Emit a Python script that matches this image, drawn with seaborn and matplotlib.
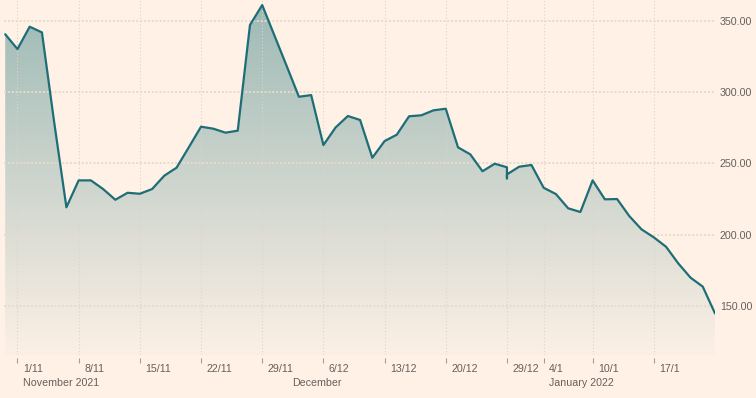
import numpy as np
import pandas as pd
import matplotlib
matplotlib.use("Agg")
import matplotlib.pyplot as plt
import matplotlib.transforms as mtransforms
from matplotlib.colors import LinearSegmentedColormap
import seaborn as sns

# ---------------- data ----------------
dates = [
    "2021-10-29",
    "2021-11-01", "2021-11-02", "2021-11-03", "2021-11-04", "2021-11-05",
    "2021-11-08", "2021-11-09", "2021-11-10", "2021-11-11", "2021-11-12",
    "2021-11-15", "2021-11-16", "2021-11-17", "2021-11-18", "2021-11-19",
    "2021-11-22", "2021-11-23", "2021-11-24", "2021-11-25", "2021-11-26",
    "2021-11-29", "2021-11-30", "2021-12-01", "2021-12-02", "2021-12-03",
    "2021-12-06", "2021-12-07", "2021-12-08", "2021-12-09", "2021-12-10",
    "2021-12-13", "2021-12-14", "2021-12-15", "2021-12-16", "2021-12-17",
    "2021-12-20", "2021-12-21", "2021-12-22", "2021-12-23", "2021-12-24",
    "2021-12-29", "2021-12-29", "2021-12-29", "2021-12-30", "2021-12-31",
    "2022-01-04", "2022-01-05", "2022-01-06", "2022-01-07",
    "2022-01-10", "2022-01-11", "2022-01-12", "2022-01-13", "2022-01-14",
    "2022-01-17", "2022-01-18", "2022-01-19", "2022-01-20", "2022-01-21",
    "2022-01-24",
]
prices = [
    340.7,
    330.3, 346.0, 342.0, 279.0, 219.2,
    238.1, 238.1, 232.0, 224.5, 229.4,
    228.7, 232.0, 241.4, 247.0, 261.3,
    275.8, 274.4, 271.6, 273.0, 347.2,
    361.2, 339.8, 318.4, 296.8, 298.0,
    262.9, 275.3, 283.3, 280.5, 254.0,
    265.7, 270.2, 283.1, 283.8, 287.3,
    288.4, 261.3, 256.4, 244.5, 249.8,
    247.3, 239.5, 242.3, 247.7, 248.9,
    232.9, 228.5, 218.5, 215.9,
    238.1, 224.8, 225.0, 213.0, 203.7,
    198.1, 191.5, 179.8, 169.8, 163.5,
    144.7,
]
holidays = ["2021-12-27", "2021-12-28", "2022-01-03"]
tick_dates = ["2021-11-01", "2021-11-08", "2021-11-15", "2021-11-22",
              "2021-11-29", "2021-12-06", "2021-12-13", "2021-12-20",
              "2021-12-29", "2022-01-04", "2022-01-10", "2022-01-17"]
tick_labels = ["1/11", "8/11", "15/11", "22/11", "29/11", "6/12", "13/12",
               "20/12", "29/12", "4/1", "10/1", "17/1"]
month_dates = ["2021-11-01", "2021-12-01", "2022-01-04"]
month_labels = ["November 2021", "December", "January 2022"]
y_ticks = [150, 200, 250, 300, 350]

# ---------------- style ----------------
BG = "#fff1e5"
TEXT = "#66605c"
LINE = "#1d6e77"
sns.set_theme(style="white", rc={"figure.facecolor": BG, "axes.facecolor": BG})
plt.rcParams["font.family"] = ["Liberation Sans", "DejaVu Sans"]

START = "2021-10-29"


def trading_pos(d):
    return np.busday_count(START, np.array(d, dtype="datetime64[D]"),
                           holidays=holidays)


df = pd.DataFrame({"date": dates, "price": prices})
df["pos"] = trading_pos(dates)

fig = plt.figure(figsize=(7.56, 3.98), dpi=100)
ax = fig.add_axes([4 / 756, 43 / 398, 711 / 756, 355 / 398])

xlim = (-0.1, float(df["pos"].max()))
ylim = (115.5, 364.75)

sns.lineplot(data=df, x="pos", y="price", estimator=None, sort=False,
             color=LINE, linewidth=1.6, ax=ax, zorder=4)

# gradient fill under the line
poly = ax.fill_between(df["pos"], df["price"], ylim[0],
                       facecolor="none", edgecolor="none")
cmap = LinearSegmentedColormap.from_list("ftgrad", ["#fcf0e5", "#9db9b5"])
grad = np.linspace(0, 1, 256).reshape(-1, 1)
im = ax.imshow(grad, cmap=cmap, aspect="auto", origin="lower",
               extent=[xlim[0], xlim[1], ylim[0], ylim[1]], zorder=1,
               interpolation="bicubic")
im.set_clip_path(poly.get_paths()[0], transform=ax.transData)

ax.set_xlim(*xlim)
ax.set_ylim(*ylim)

# grid
ax.set_axisbelow(False)
ax.yaxis.grid(True, color="#e8dacd", linestyle=(0, (1, 1)), linewidth=1.4)
ax.xaxis.grid(True, color="#ddd4cb", linestyle=(0, (1, 2)), linewidth=0.8)

for s in ax.spines.values():
    s.set_visible(False)
ax.spines["bottom"].set_position(("outward", 2.2))

# y axis on the right
ax.yaxis.tick_right()
ax.set_yticks(y_ticks)
ax.set_yticklabels([f"{v:.2f}" for v in y_ticks])
ax.tick_params(axis="y", length=0, pad=3.6, labelsize=7.7, labelcolor=TEXT)

# x axis
ax.set_xticks(trading_pos(tick_dates))
ax.set_xticklabels(tick_labels)
ax.tick_params(axis="x", direction="out", length=3.6, width=0.8,
               color="#a59e98", pad=0.5, labelsize=7.7, labelcolor=TEXT,
               bottom=True)
offset = mtransforms.ScaledTranslation(0.055, 0, fig.dpi_scale_trans)
for lab in ax.get_xticklabels():
    lab.set_ha("left")
    lab.set_transform(lab.get_transform() + offset)

for d, lab in zip(trading_pos(month_dates), month_labels):
    ax.annotate(lab, xy=(d, 0), xycoords=ax.get_xaxis_transform(),
                xytext=(3.9, -20.4), textcoords="offset points",
                ha="left", va="center", fontsize=7.7, color=TEXT)

ax.set_xlabel("")
ax.set_ylabel("")

fig.savefig("out.png", dpi=100, facecolor=BG)
